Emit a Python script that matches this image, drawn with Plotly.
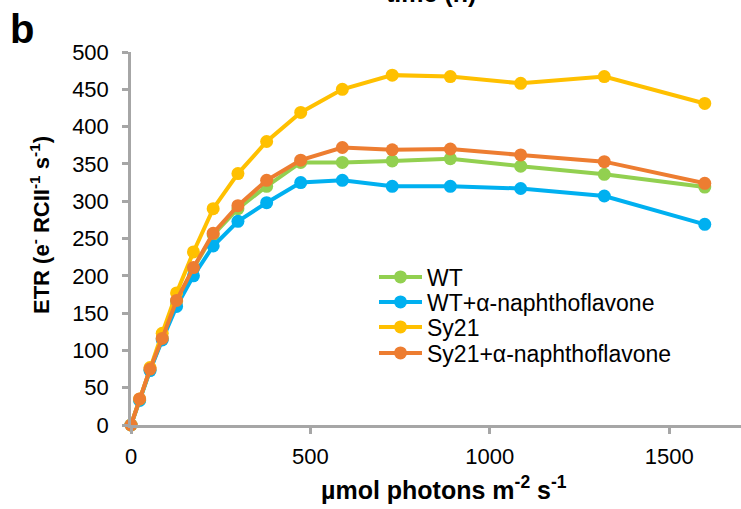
import plotly.graph_objects as go

par = [0, 24, 53, 87, 127, 174, 229, 298, 378, 473, 589, 728, 890, 1086, 1319, 1599]
series_names = ["WT", "WT+α-naphthoflavone", "Sy21", "Sy21+α-naphthoflavone"]
wt = [0, 34, 74, 116, 166, 210, 255, 290, 320, 352, 352, 354, 357, 347, 336, 319]
wt_anf = [0, 33, 73, 114, 159, 200, 240, 273, 298, 325, 328, 320, 320, 317, 307, 269]
sy21 = [0, 35, 77, 123, 177, 232, 290, 337, 380, 419, 450, 469, 467, 458, 467, 431]
sy21_anf = [0, 35, 75, 116, 167, 211, 257, 294, 328, 355, 372, 369, 370, 362, 353, 324]
colors = ["#92D050", "#00B0F0", "#FFC000", "#ED7D31"]
x_ticks = [0, 500, 1000, 1500]
y_ticks = [0, 50, 100, 150, 200, 250, 300, 350, 400, 450, 500]

FONT = "Liberation Sans, Arial, sans-serif"
L, T, B, W, H = 131, 52, 84, 741, 509
PW, PH = W - L, H - T - B


def px_x(p):
    return (p - L) / PW


def px_y(p):
    return (H - B - p) / PH


legend_ids = ["legend", "legend2", "legend3", "legend4"]
row_centers = [277, 302, 327, 353]

fig = go.Figure()
for name, ys, c, lid in zip(series_names, [wt, wt_anf, sy21, sy21_anf], colors, legend_ids):
    fig.add_trace(go.Scatter(
        x=par, y=ys, name=name, mode="lines+markers",
        line=dict(color=c, width=4),
        marker=dict(color=c, size=13),
        cliponaxis=False, legend=lid,
    ))

legends = {}
for lid, yc in zip(legend_ids, row_centers):
    legends[lid] = dict(x=px_x(374), y=px_y(yc), xanchor="left", yanchor="middle",
                        bgcolor="rgba(0,0,0,0)", font=dict(size=23, family=FONT, color="black"),
                        itemwidth=43)

axis_common = dict(showgrid=False, zeroline=False, showline=True, linecolor="#A6A6A6",
                   linewidth=2.5, ticks="outside", ticklen=6, tickwidth=2.5,
                   tickcolor="#A6A6A6", tickfont=dict(size=22, family=FONT, color="black"))

fig.update_layout(
    width=W, height=H,
    margin=dict(l=L, r=0, t=T, b=B),
    plot_bgcolor="white", paper_bgcolor="white",
    font=dict(family=FONT, size=22, color="black"),
    showlegend=True,
    xaxis=dict(range=[0, 1700], tickvals=x_ticks, ticklabelstandoff=4, **axis_common),
    yaxis=dict(range=[0, 500], tickvals=y_ticks, ticklabelstandoff=9, **axis_common),
    annotations=[
        dict(text="<b>b</b>", xref="paper", yref="paper", x=px_x(22), y=px_y(29),
             xanchor="center", yanchor="middle", showarrow=False,
             font=dict(size=40, family=FONT)),
        dict(text="<b>time (h)</b>", xref="paper", yref="paper", x=px_x(431),
             y=px_y(-7), xanchor="center", yanchor="middle", showarrow=False,
             font=dict(size=25, family=FONT)),
        dict(text="<b>µmol photons m<sup>-2</sup> s<sup>-1</sup></b>", xref="paper", yref="paper",
             x=px_x(444), y=px_y(488), xanchor="center", yanchor="middle", showarrow=False,
             font=dict(size=25, family=FONT)),
        dict(text="<b>ETR (e<sup>-</sup> RCII<sup>-1</sup> s<sup>-1</sup>)</b>", xref="paper", yref="paper",
             x=px_x(40), y=px_y(225), xanchor="center", yanchor="middle", showarrow=False,
             textangle=-90, font=dict(size=22, family=FONT)),
    ],
    **legends,
)
fig.write_html("out.html")
